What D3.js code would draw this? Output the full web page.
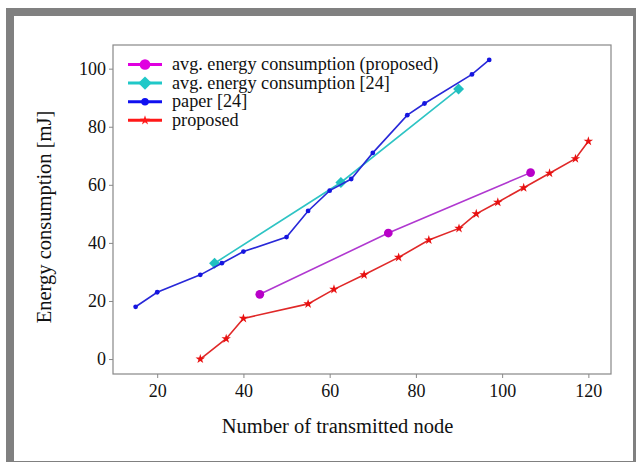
<!DOCTYPE html>
<html><head><meta charset="utf-8">
<script src="https://cdn.jsdelivr.net/npm/d3@7"></script>
<style>body{margin:0;background:#fff}svg{display:block}</style>
</head><body><svg id="c" width="636" height="462"></svg>
<script>
const paperX = [15,20,30,35,40,50,55,60,65,70,78,82,93,97];
const paperY = [18,23,29,33,37,42,51,58,62,71,84,88,98,103];
const propX = [30,36,40,55,61,68,76,83,90,94,99,105,111,117,120];
const propY = [0,7,14,19,24,29,35,41,45,50,54,59,64,69,75];
const avgPropX = [43.8,73.6,106.6];
const avgPropY = [22.3,43.4,64.2];
const avgPaperX = [33.3,62.6,89.9];
const avgPaperY = [33,60.8,93];
const xTicks = [20,40,60,80,100,120];
const yTicks = [0,20,40,60,80,100];
const legendLabels = ["avg. energy consumption (proposed)","avg. energy consumption [24]","paper [24]","proposed"];

const FONT = "'Liberation Serif', 'Times New Roman', Times, serif";
const svg = d3.select("#c");
svg.append("rect").attr("x",6).attr("y",8).attr("width",630).attr("height",454).attr("fill","#808080");
svg.append("rect").attr("x",14).attr("y",16).attr("width",619).attr("height",445).attr("fill","#fff");

const L=113,R=611,T=45,B=374;
const x = d3.scaleLinear().domain([9.75,125.25]).range([L,R]);
const y = d3.scaleLinear().domain([-5.15,108.15]).range([B,T]);

const g = svg.append("g");
const ax = g.append("g").attr("transform",`translate(0,${B})`).call(d3.axisBottom(x).tickValues(xTicks).tickSize(4).tickPadding(6));
const ay = g.append("g").attr("transform",`translate(${L},0)`).call(d3.axisLeft(y).tickValues(yTicks).tickSize(4).tickPadding(3));
[ax,ay].forEach(a=>{a.attr("font-family",null).attr("font-size",null);a.select(".domain").remove();a.selectAll("line").attr("stroke","#888");a.selectAll("text").style("font-family",FONT).style("font-size","18px").attr("fill","#111");});
g.append("rect").attr("x",L).attr("y",T).attr("width",R-L).attr("height",B-T).attr("fill","none").attr("stroke","#888").attr("stroke-width",1.2);

const diamond = {draw(ctx,size){const r=Math.sqrt(size/2);ctx.moveTo(0,-r);ctx.lineTo(r,0);ctx.lineTo(0,r);ctx.lineTo(-r,0);ctx.closePath();}};
const series = [
  {xs:avgPaperX, ys:avgPaperY, color:"#2ec4c4", mcolor:"#20c0c0", sym:diamond, size:60, lw:1.6},
  {xs:paperX, ys:paperY, color:"#2828d8", mcolor:"#1515e0", sym:d3.symbolCircle, size:18, lw:1.6},
  {xs:avgPropX, ys:avgPropY, color:"#b038d0", mcolor:"#b800c8", sym:d3.symbolCircle, size:60, lw:1.6},
  {xs:propX, ys:propY, color:"#e02828", mcolor:"#e81010", sym:d3.symbolStar, size:28, lw:1.6}
];
const line = d3.line().x(d=>x(d[0])).y(d=>y(d[1]));
series.forEach(s=>{
  const pts = s.xs.map((v,i)=>[v,s.ys[i]]);
  g.append("path").attr("d",line(pts)).attr("fill","none").attr("stroke",s.color).attr("stroke-width",s.lw);
  g.selectAll(null).data(pts).enter().append("path")
    .attr("d",d3.symbol().type(s.sym).size(s.size))
    .attr("transform",d=>`translate(${x(d[0])},${y(d[1])})`).attr("fill",s.mcolor);
});

const leg = [
  {color:"#e000e0", sym:d3.symbolCircle, size:90},
  {color:"#20c8c8", sym:diamond, size:90},
  {color:"#1010f0", sym:d3.symbolCircle, size:45},
  {color:"#ff1818", sym:d3.symbolStar, size:30}
];
leg.forEach((l,i)=>{
  const yy = 64.5 + i*18.6;
  g.append("line").attr("x1",128).attr("x2",162).attr("y1",yy).attr("y2",yy).attr("stroke",l.color).attr("stroke-width",3);
  g.append("path").attr("d",d3.symbol().type(l.sym).size(l.size)).attr("transform",`translate(145,${yy})`).attr("fill",l.color);
  g.append("text").attr("x",172).attr("y",yy+5.5).style("font-family",FONT).style("font-size","18.2px").attr("fill","#111").text(legendLabels[i]);
});

g.append("text").attr("x",337.5).attr("y",433).attr("text-anchor","middle").style("font-family",FONT).style("font-size","20.5px").attr("fill","#111").text("Number of transmitted node");
g.append("text").attr("transform",`translate(51,217) rotate(-90)`).attr("text-anchor","middle").style("font-family",FONT).style("font-size","20.5px").attr("fill","#111").text("Energy consumption [mJ]");
</script></body></html>
